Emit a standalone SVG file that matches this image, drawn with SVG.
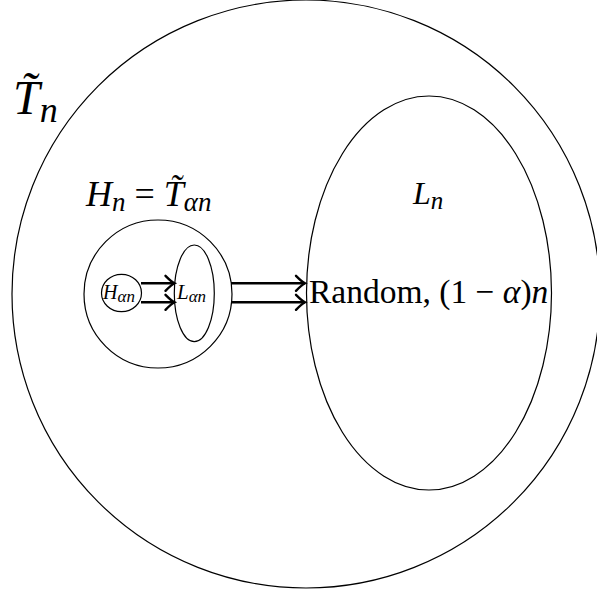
<svg xmlns="http://www.w3.org/2000/svg" width="597" height="596" viewBox="0 0 597 596">
<style>
.shape{fill:none;stroke:#000;stroke-width:1.2}
.arr{fill:none;stroke:#000;stroke-width:2.6}
.t{font-family:"Liberation Serif","Times New Roman",serif;fill:#000}
.i{font-style:italic}
</style>
<defs>
<marker id="head" markerUnits="userSpaceOnUse" markerWidth="20" markerHeight="20" refX="0" refY="0" orient="auto" overflow="visible">
<path d="M-9,-7.5 Q-3,-1.5 0,0 Q-3,1.5 -9,7.5" fill="none" stroke="#000" stroke-width="2.4" stroke-linecap="round"/>
</marker>
</defs>
<rect width="597" height="596" fill="#fff"/>
<g id="Tn">
<circle class="shape" cx="306" cy="294" r="294"/>
<text class="t i" x="13" y="114" font-size="48">T̃<tspan font-size="36" dy="8">n</tspan></text>
</g>
<g id="Ln">
<ellipse class="shape" cx="429" cy="293" rx="122.5" ry="197"/>
<text class="t i" x="413" y="204" font-size="32">L<tspan font-size="25" dy="5">n</tspan></text>
<text class="t" x="309" y="303" font-size="33.5">Random, (1 − <tspan class="i">α</tspan>)<tspan class="i">n</tspan></text>
</g>
<g id="Hn">
<circle class="shape" cx="158" cy="294" r="74"/>
<text class="t i" x="86" y="206" font-size="36">H<tspan font-size="27" dy="5">n</tspan><tspan font-style="normal" font-size="36" dy="-5"> = </tspan>T̃<tspan font-size="27" dy="5">αn</tspan></text>
</g>
<g id="Han">
<ellipse class="shape" cx="121.5" cy="293" rx="20" ry="18.7"/>
<text class="t i" x="103" y="299" font-size="20">H<tspan font-size="17" dy="3">αn</tspan></text>
</g>
<g id="Lan">
<ellipse class="shape" cx="194.3" cy="293.3" rx="20" ry="48.3"/>
<text class="t i" x="177" y="299" font-size="21">L<tspan font-size="17" dy="3">αn</tspan></text>
</g>
<g id="connectors">
<line class="arr" x1="141" y1="283.3" x2="174.5" y2="283.3" marker-end="url(#head)"/>
<line class="arr" x1="141" y1="302.3" x2="174.5" y2="302.3" marker-end="url(#head)"/>
<line class="arr" x1="231" y1="283.3" x2="305" y2="283.3" marker-end="url(#head)"/>
<line class="arr" x1="231" y1="302.3" x2="305" y2="302.3" marker-end="url(#head)"/>
</g>
</svg>
